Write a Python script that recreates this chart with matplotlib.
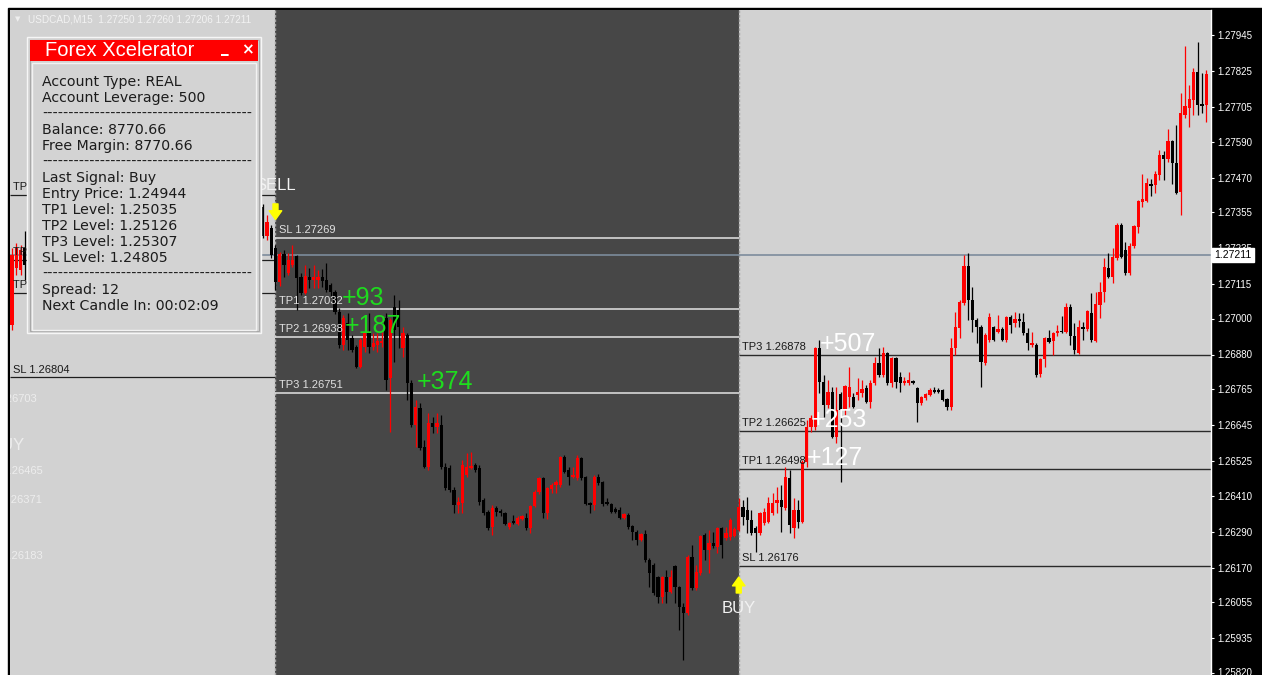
import numpy as np
import matplotlib.pyplot as plt
from matplotlib.patches import Rectangle

plt.rcParams['font.family'] = ['Liberation Sans', 'DejaVu Sans']

# USDCAD M15 candles (bar index, O/H/L/C)
# a few bars peek out at the left edge, the rest there sit behind the info panel
edge_start = 0
edge_open = [1.26978, 1.27168, 1.27162, 1.27235]
edge_high = [1.27235, 1.27252, 1.27245, 1.27292]
edge_low = [1.26962, 1.27145, 1.27145, 1.27128]
edge_close = [1.27212, 1.27235, 1.27228, 1.27178]

main_start = 59
opens = [
    1.27372, 1.27275, 1.27302, 1.27235, 1.27122, 1.27215, 1.27152, 1.27178, 1.27208, 1.27138,
    1.27085, 1.27138, 1.27128, 1.27128, 1.27138, 1.27128, 1.27112, 1.27088, 1.27022, 1.26912,
    1.26985, 1.26935, 1.26905, 1.26838, 1.26905, 1.26952, 1.26905, 1.26912, 1.26918, 1.27002,
    1.26802, 1.27038, 1.27028, 1.26902, 1.26945, 1.26785, 1.26645, 1.26702, 1.26572, 1.26505,
    1.26652, 1.26638, 1.26645, 1.26505, 1.26502, 1.26428, 1.26378, 1.26385, 1.26478, 1.26502,
    1.26512, 1.26502, 1.26395, 1.26355, 1.26305, 1.26368, 1.26358, 1.26352, 1.26305, 1.26325,
    1.26315, 1.26332, 1.26335, 1.26302, 1.26375, 1.26422, 1.26468, 1.26352, 1.26432, 1.26445,
    1.26445, 1.26538, 1.26495, 1.26472, 1.26468, 1.26535, 1.26472, 1.26385, 1.26378, 1.26472,
    1.26455, 1.26388, 1.26382, 1.26365, 1.26362, 1.26335, 1.26345, 1.26308, 1.26288, 1.26262,
    1.26282, 1.26195, 1.26178, 1.26138, 1.26072, 1.26138, 1.26088, 1.26175, 1.26105, 1.26038,
    1.26018, 1.26205, 1.26102, 1.26152, 1.26278, 1.26228, 1.26252, 1.26238, 1.26302, 1.26268,
    1.26272, 1.26275, 1.26295, 1.26372, 1.26362, 1.26328, 1.26302, 1.26285, 1.26318, 1.26322,
    1.26352, 1.26385, 1.26395, 1.26368, 1.26468, 1.26302, 1.26362, 1.26322, 1.26522, 1.26638,
    1.26638, 1.26902, 1.26788, 1.26712, 1.26755, 1.26605, 1.26748, 1.26695, 1.26738, 1.26738,
    1.26745, 1.26752, 1.26768, 1.26722, 1.26785, 1.26852, 1.26812, 1.26885, 1.26785, 1.26868,
    1.26805, 1.26785, 1.26785, 1.26792, 1.26768, 1.26718, 1.26735, 1.26745, 1.26762, 1.26762,
    1.26762, 1.26732, 1.26705, 1.26902, 1.26968, 1.27052, 1.27175, 1.27062, 1.26995, 1.26972,
    1.26852, 1.26928, 1.26972, 1.26955, 1.26965, 1.26928, 1.27005, 1.26985, 1.26998, 1.26988,
    1.26952, 1.26912, 1.26912, 1.26815, 1.26865, 1.26935, 1.26925, 1.26952, 1.26958, 1.26955,
    1.27038, 1.26942, 1.26885, 1.26972, 1.26965, 1.27018, 1.26925, 1.27045, 1.27088, 1.27168,
    1.27138, 1.27202, 1.27312, 1.27228, 1.27152, 1.27242, 1.27305, 1.27388, 1.27392, 1.27448,
    1.27445, 1.27478, 1.27545, 1.27532, 1.27592, 1.27518, 1.27422, 1.27678, 1.27702, 1.27728,
    1.27822, 1.27715, 1.27712]
highs = [
    1.27382, 1.27345, 1.27312, 1.27245, 1.27222, 1.27228, 1.27218, 1.27245, 1.27212, 1.27152,
    1.27178, 1.27168, 1.27178, 1.27162, 1.27165, 1.27185, 1.27118, 1.27095, 1.27035, 1.27012,
    1.27018, 1.26945, 1.26912, 1.26935, 1.26985, 1.27018, 1.26952, 1.26952, 1.26955, 1.27018,
    1.27002, 1.27078, 1.27062, 1.26972, 1.26952, 1.26795, 1.26728, 1.26718, 1.26595, 1.26685,
    1.26672, 1.26685, 1.26678, 1.26518, 1.26512, 1.26438, 1.26405, 1.26528, 1.26552, 1.26555,
    1.26518, 1.26512, 1.26402, 1.26362, 1.26378, 1.26375, 1.26365, 1.26355, 1.26322, 1.26345,
    1.26342, 1.26345, 1.26352, 1.26378, 1.26428, 1.26472, 1.26472, 1.26438, 1.26452, 1.26462,
    1.26542, 1.26545, 1.26505, 1.26505, 1.26545, 1.26538, 1.26475, 1.26388, 1.26478, 1.26482,
    1.26458, 1.26402, 1.26385, 1.26372, 1.26372, 1.26352, 1.26352, 1.26312, 1.26295, 1.26285,
    1.26295, 1.26202, 1.26185, 1.26142, 1.26142, 1.26162, 1.26162, 1.26178, 1.26108, 1.26052,
    1.26212, 1.26245, 1.26178, 1.26278, 1.26285, 1.26295, 1.26288, 1.26305, 1.26305, 1.26305,
    1.26335, 1.26305, 1.26402, 1.26395, 1.26405, 1.26362, 1.26308, 1.26355, 1.26368, 1.26405,
    1.26418, 1.26438, 1.26445, 1.26505, 1.26495, 1.26402, 1.26395, 1.26528, 1.26662, 1.26678,
    1.26905, 1.26928, 1.26812, 1.26795, 1.26772, 1.26772, 1.26755, 1.26778, 1.26838, 1.26752,
    1.26802, 1.26795, 1.26778, 1.26795, 1.26872, 1.26902, 1.26905, 1.26888, 1.26872, 1.26872,
    1.26822, 1.26805, 1.26822, 1.26795, 1.26772, 1.26742, 1.26752, 1.26768, 1.26772, 1.26768,
    1.26765, 1.26735, 1.26935, 1.27022, 1.27062, 1.27212, 1.27218, 1.27105, 1.27002, 1.26978,
    1.26952, 1.27018, 1.26975, 1.27012, 1.26972, 1.27008, 1.27012, 1.27022, 1.27018, 1.27018,
    1.26968, 1.26955, 1.26918, 1.26868, 1.26938, 1.26962, 1.26955, 1.26978, 1.27008, 1.27052,
    1.27048, 1.26985, 1.26995, 1.26988, 1.27028, 1.27085, 1.27088, 1.27122, 1.27202, 1.27218,
    1.27235, 1.27318, 1.27318, 1.27255, 1.27252, 1.27312, 1.27395, 1.27482, 1.27468, 1.27465,
    1.27492, 1.27562, 1.27558, 1.27632, 1.27595, 1.27645, 1.27752, 1.27908, 1.27778, 1.27835,
    1.27922, 1.27818, 1.27828]
lows = [
    1.27268, 1.27262, 1.27202, 1.27095, 1.27108, 1.27138, 1.27145, 1.27172, 1.27028, 1.27078,
    1.27082, 1.27102, 1.27102, 1.27102, 1.27105, 1.27088, 1.27075, 1.27015, 1.26902, 1.26895,
    1.26895, 1.26888, 1.26835, 1.26835, 1.26888, 1.26885, 1.26895, 1.26888, 1.26905, 1.26762,
    1.26622, 1.26855, 1.26902, 1.26872, 1.26728, 1.26638, 1.26572, 1.26562, 1.26502, 1.26495,
    1.26618, 1.26618, 1.26500, 1.26428, 1.26422, 1.26352, 1.26352, 1.26352, 1.26472, 1.26498,
    1.26488, 1.26378, 1.26345, 1.26295, 1.26278, 1.26342, 1.26342, 1.26312, 1.26298, 1.26315,
    1.26312, 1.26328, 1.26295, 1.26285, 1.26372, 1.26415, 1.26335, 1.26332, 1.26418, 1.26418,
    1.26438, 1.26485, 1.26445, 1.26468, 1.26462, 1.26462, 1.26378, 1.26352, 1.26362, 1.26445,
    1.26375, 1.26378, 1.26352, 1.26352, 1.26332, 1.26332, 1.26298, 1.26262, 1.26245, 1.26258,
    1.26188, 1.26105, 1.26078, 1.26052, 1.26052, 1.26052, 1.26085, 1.26052, 1.25962, 1.25862,
    1.26012, 1.26095, 1.26095, 1.26145, 1.26195, 1.26152, 1.26235, 1.26218, 1.26202, 1.26262,
    1.26262, 1.26272, 1.26292, 1.26312, 1.26285, 1.26278, 1.26222, 1.26278, 1.26312, 1.26318,
    1.26345, 1.26352, 1.26288, 1.26362, 1.26285, 1.26268, 1.26302, 1.26318, 1.26505, 1.26622,
    1.26628, 1.26752, 1.26672, 1.26702, 1.26602, 1.26585, 1.26455, 1.26678, 1.26705, 1.26702,
    1.26728, 1.26738, 1.26718, 1.26702, 1.26778, 1.26805, 1.26805, 1.26778, 1.26772, 1.26768,
    1.26755, 1.26778, 1.26778, 1.26782, 1.26655, 1.26712, 1.26728, 1.26742, 1.26752, 1.26752,
    1.26725, 1.26695, 1.26695, 1.26878, 1.26935, 1.27045, 1.26995, 1.26955, 1.26918, 1.26772,
    1.26845, 1.26922, 1.26925, 1.26952, 1.26925, 1.26922, 1.26952, 1.26972, 1.26972, 1.26945,
    1.26895, 1.26905, 1.26805, 1.26805, 1.26838, 1.26918, 1.26878, 1.26942, 1.26952, 1.26952,
    1.26912, 1.26882, 1.26882, 1.26928, 1.26958, 1.26922, 1.26922, 1.27002, 1.27055, 1.27135,
    1.27118, 1.27195, 1.27202, 1.27145, 1.27145, 1.27235, 1.27285, 1.27372, 1.27388, 1.27408,
    1.27418, 1.27462, 1.27462, 1.27522, 1.27448, 1.27415, 1.27345, 1.27668, 1.27638, 1.27678,
    1.27678, 1.27685, 1.27655]
closes = [
    1.27275, 1.27322, 1.27212, 1.27122, 1.27215, 1.27178, 1.27195, 1.27195, 1.27135, 1.27085,
    1.27142, 1.27128, 1.27138, 1.27138, 1.27125, 1.27095, 1.27088, 1.27022, 1.26912, 1.27002,
    1.26928, 1.26895, 1.26838, 1.26928, 1.26952, 1.26905, 1.26918, 1.26925, 1.26925, 1.26795,
    1.26995, 1.26962, 1.26972, 1.26952, 1.26785, 1.26645, 1.26705, 1.26568, 1.26505, 1.26652,
    1.26638, 1.26652, 1.26505, 1.26435, 1.26428, 1.26378, 1.26388, 1.26512, 1.26505, 1.26508,
    1.26495, 1.26388, 1.26352, 1.26302, 1.26368, 1.26355, 1.26352, 1.26315, 1.26318, 1.26318,
    1.26335, 1.26342, 1.26302, 1.26375, 1.26422, 1.26468, 1.26352, 1.26435, 1.26445, 1.26455,
    1.26538, 1.26488, 1.26472, 1.26478, 1.26535, 1.26468, 1.26382, 1.26378, 1.26472, 1.26452,
    1.26382, 1.26382, 1.26355, 1.26355, 1.26335, 1.26348, 1.26305, 1.26288, 1.26262, 1.26282,
    1.26195, 1.26152, 1.26085, 1.26072, 1.26138, 1.26088, 1.26138, 1.26105, 1.26038, 1.26018,
    1.26205, 1.26102, 1.26155, 1.26275, 1.26228, 1.26252, 1.26242, 1.26302, 1.26245, 1.26285,
    1.26328, 1.26298, 1.26372, 1.26338, 1.26328, 1.26285, 1.26285, 1.26352, 1.26355, 1.26385,
    1.26385, 1.26395, 1.26372, 1.26472, 1.26312, 1.26362, 1.26322, 1.26522, 1.26638, 1.26668,
    1.26902, 1.26788, 1.26712, 1.26755, 1.26605, 1.26695, 1.26695, 1.26775, 1.26772, 1.26705,
    1.26755, 1.26765, 1.26722, 1.26785, 1.26852, 1.26812, 1.26885, 1.26785, 1.26868, 1.26788,
    1.26785, 1.26792, 1.26795, 1.26785, 1.26718, 1.26738, 1.26748, 1.26762, 1.26755, 1.26755,
    1.26728, 1.26705, 1.26902, 1.26972, 1.27055, 1.27175, 1.27062, 1.26995, 1.26972, 1.26855,
    1.26945, 1.27005, 1.26928, 1.26965, 1.26928, 1.27005, 1.26978, 1.26998, 1.26992, 1.26952,
    1.26918, 1.26918, 1.26812, 1.26865, 1.26935, 1.26922, 1.26952, 1.26958, 1.26955, 1.27038,
    1.26942, 1.26895, 1.26972, 1.26965, 1.27025, 1.26928, 1.27048, 1.27088, 1.27172, 1.27138,
    1.27205, 1.27312, 1.27205, 1.27152, 1.27242, 1.27308, 1.27392, 1.27398, 1.27452, 1.27442,
    1.27482, 1.27545, 1.27532, 1.27592, 1.27518, 1.27418, 1.27685, 1.27708, 1.27732, 1.27822,
    1.27712, 1.27708, 1.27815]

# signal bars and their levels
sell_bar = 62
buy_bar = 171
current_price = 1.27211

prev_names = ['TP3', 'TP2', 'TP1', 'SL']
prev_levels = [1.27412, 1.27195, 1.27085, 1.26804]
sell_names = ['SL', 'TP1', 'TP2', 'TP3']
sell_levels = [1.27269, 1.27032, 1.26938, 1.26751]
buy_names = ['TP3', 'TP2', 'TP1', 'SL']
buy_levels = [1.26878, 1.26625, 1.26498, 1.26176]

sell_profit = ['+93', '+187', '+374']
sell_profit_levels = [1.27032, 1.26938, 1.26751]
sell_profit_bars = [77.5, 78.2, 95.3]
buy_profit = ['+507', '+253', '+127']
buy_profit_levels = [1.26878, 1.26625, 1.26498]
buy_profit_bars = [190, 188, 187]

# faint leftovers of an older signal, cut off by the left edge
old_texts = ['TP3 1.26703', 'TP2 1.26465', 'TP1 1.26371', 'SL 1.26183']
old_prices = [1.26732, 1.26492, 1.26395, 1.26208]
old_right_px = [37, 43, 42, 43]

price_ticks = [1.27945, 1.27825, 1.27705, 1.27590, 1.27470, 1.27355, 1.27235, 1.27115, 1.27000,
               1.26880, 1.26765, 1.26645, 1.26525, 1.26410, 1.26290, 1.26170, 1.26055, 1.25935, 1.25820]

panel_lines = ['Account Type: REAL', 'Account Leverage: 500', None,
               'Balance: 8770.66', 'Free Margin: 8770.66', None,
               'Last Signal: Buy', 'Entry Price: 1.24944', 'TP1 Level: 1.25035',
               'TP2 Level: 1.25126', 'TP3 Level: 1.25307', 'SL Level: 1.24805', None,
               'Spread: 12', 'Next Candle In: 00:02:09']

W, H = 1262, 675
BAR_PX = 4.25          # pixels per bar
X0 = 12                # pixel of bar 0
PIP_PX = 30000         # pixels per 1.0 of price

bull = '#FF0000'
bear = '#000000'

fig = plt.figure(figsize=(W / 100, H / 100), dpi=100, facecolor='white')
# black window frame / price scale background
fig.patches.append(Rectangle((8 / W, 0), 1 - 8 / W, (H - 8) / H, transform=fig.transFigure,
                             color='black', zorder=-10))

ax = fig.add_axes([10 / W, 0, 1201 / W, 665 / H])
ax.set_facecolor('#D2D2D2')
ax.set_xlim((10 - X0) / BAR_PX, (1211 - X0) / BAR_PX)
ax.set_ylim(1.27945 - 640 / PIP_PX, 1.27945 + 25 / PIP_PX)
x_left, x_right = ax.get_xlim()

# sell period background and signal separators
ax.axvspan(sell_bar, buy_bar, color='#474747', lw=0, zorder=0.5)
for b in [sell_bar, buy_bar]:
    ax.axvline(b, color='#A4A4A4', lw=1.0, ls=(0, (2, 1.2)), zorder=1)

ax.axhline(current_price, color='#7D8C9C', lw=1.2, zorder=1.5)

# level lines
ax.hlines(prev_levels, x_left, sell_bar, colors='#1E1E1E', lw=0.9, zorder=1.6)
ax.hlines(sell_levels, sell_bar, buy_bar, colors='#E4E4E4', lw=1.1, zorder=1.6)
ax.hlines(buy_levels, buy_bar, x_right, colors='#2A2A2A', lw=1.0, zorder=1.6)


def level_labels(names, levels, x, color):
    for n, v in zip(names, levels):
        ax.annotate(f'{n} {v:.5f}', xy=(x, v), xytext=(2.2, 2.0), textcoords='offset points',
                    ha='left', va='bottom', fontsize=8, color=color, zorder=4)


level_labels(prev_names, prev_levels, x_left, '#1A1A1A')
level_labels(sell_names, sell_levels, sell_bar, '#E0E0E0')
level_labels(buy_names, buy_levels, buy_bar, '#1A1A1A')

for t, v, b in zip(sell_profit, sell_profit_levels, sell_profit_bars):
    ax.annotate(t, xy=(b, v), xytext=(0, 3), textcoords='offset points', ha='left',
                va='baseline', fontsize=18, color='#1EDC1E', zorder=4)
for t, v, b in zip(buy_profit, buy_profit_levels, buy_profit_bars):
    ax.annotate(t, xy=(b, v), xytext=(0, 3), textcoords='offset points', ha='left',
                va='baseline', fontsize=18, color='white', zorder=4)

for t, v, r in zip(old_texts, old_prices, old_right_px):
    ax.text((r - X0) / BAR_PX, v, t, ha='right', va='center', fontsize=8,
            color='#EDEDED', clip_on=True, zorder=4)
ax.text((25 - X0) / BAR_PX, 1.26578, 'BUY', ha='right', va='center', fontsize=12,
        color='#EDEDED', clip_on=True, zorder=4)


# candles
def candles(start, o, h, l, c):
    o, h, l, c = map(np.asarray, (o, h, l, c))
    x = np.arange(len(o)) + start
    col = np.where(c >= o, bull, bear)
    ax.vlines(x, l, h, colors=col, lw=0.9, zorder=3)
    lo = np.minimum(o, c)
    hi = np.maximum(o, c)
    ht = np.maximum(hi - lo, 0.00003)
    ax.bar(x, ht, bottom=lo, width=0.8, color=col, lw=0, zorder=3.1)


candles(edge_start, edge_open, edge_high, edge_low, edge_close)
candles(main_start, opens, highs, lows, closes)

# signal arrows and captions
ax.text(sell_bar, 1.27442, 'SELL', ha='center', va='center', fontsize=12, color='#F2F2F2', zorder=4)
ax.text(buy_bar, 1.26032, 'BUY', ha='center', va='center', fontsize=12, color='#F2F2F2', zorder=4)
arrow = dict(arrowstyle='simple,head_length=0.7,head_width=1.0,tail_width=0.4',
             fc='#FFFF00', ec='#FFFF00', mutation_scale=9, shrinkA=0, shrinkB=0)
ax.annotate('', xy=(sell_bar, 1.27330), xytext=(sell_bar, 1.27382), arrowprops=arrow, zorder=4)
ax.annotate('', xy=(buy_bar, 1.26138), xytext=(buy_bar, 1.26085), arrowprops=arrow, zorder=4)

# price scale on the right
for s in ['top', 'left', 'bottom']:
    ax.spines[s].set_visible(False)
ax.spines['right'].set_color('white')
ax.spines['right'].set_linewidth(1.0)
ax.set_xticks([])
ax.yaxis.tick_right()
ax.set_yticks(price_ticks)
ax.set_yticklabels([f'{v:.5f}' for v in price_ticks])
ax.tick_params(axis='y', colors='white', labelsize=7, length=2.5, width=0.8, pad=2)
ax.annotate(f'{current_price:.5f}', xy=(1, current_price), xycoords=('axes fraction', 'data'),
            xytext=(2.4, 0), textcoords='offset points', ha='left', va='center', fontsize=7.5,
            color='black', annotation_clip=False, zorder=6,
            bbox=dict(boxstyle='square,pad=0.2', fc='white', ec='white'))

# overlay in pixel coordinates for the window decorations and the info panel
ov = fig.add_axes([0, 0, 1, 1], zorder=5)
ov.set_xlim(0, W)
ov.set_ylim(H, 0)
ov.axis('off')
ov.patch.set_visible(False)

ov.text(15, 19, '▼', fontsize=5, color='#EEEEEE', va='center', family='DejaVu Sans')
ov.text(28, 19, 'USDCAD,M15  1.27250 1.27260 1.27206 1.27211', fontsize=7.2, color='#F2F2F2', va='center')

ov.add_patch(Rectangle((27, 37), 234, 296, fc='#D3D3D3', ec='#F6F6F6', lw=1))
ov.add_patch(Rectangle((29.5, 39.5), 229, 291, fc='none', ec='#A8A8A8', lw=0.8))
ov.add_patch(Rectangle((30, 40), 228, 21, fc='#FF0000', ec='none'))
ov.add_patch(Rectangle((32, 63), 224, 267, fc='none', ec='#F2F2F2', lw=1))
ov.text(45, 51, 'Forex Xcelerator', fontsize=14.5, color='white', va='center')
ov.text(221, 48, '_', fontsize=11, color='white', va='center', fontweight='bold', family='DejaVu Sans')
ov.text(247, 50, '×', fontsize=11, color='white', va='center', ha='center', fontweight='bold',
        family='DejaVu Sans')

for k, line in enumerate(panel_lines):
    y = 82 + 16 * k
    txt = '-' * 40 if line is None else line
    ov.text(42, y, txt, fontsize=10.2, color='#1C1C1C', va='center', family='DejaVu Sans')

fig.savefig('out.png', dpi=100, facecolor='white')
